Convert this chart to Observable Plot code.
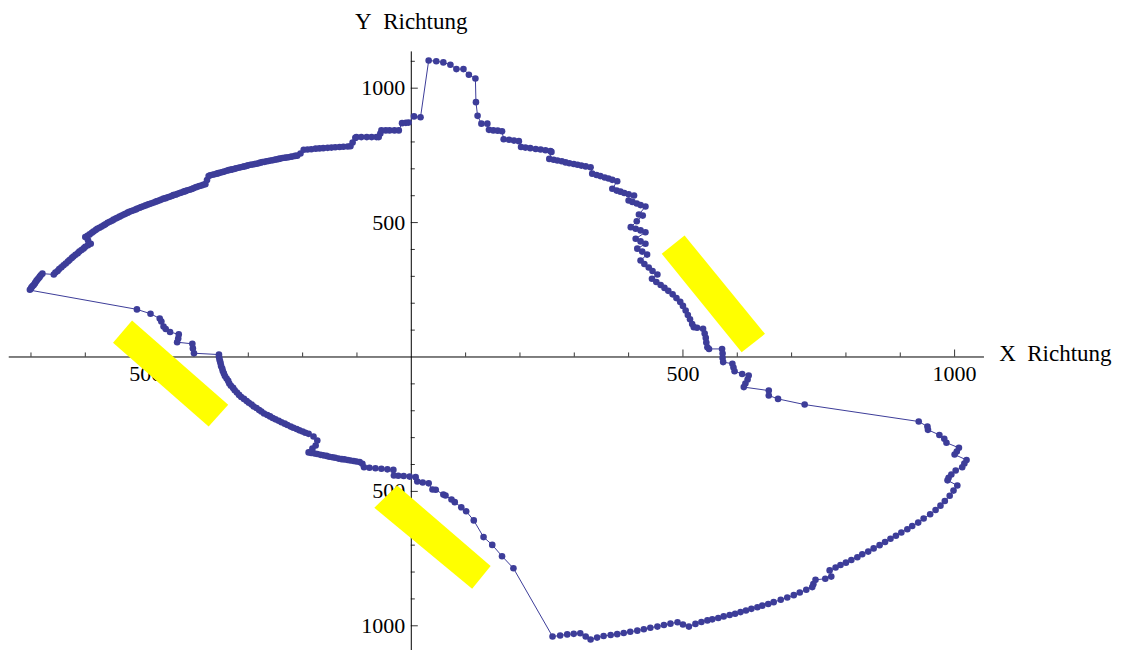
<!DOCTYPE html>
<html><head><meta charset="utf-8">
<script src="https://cdn.jsdelivr.net/npm/d3@7"></script>
<script src="https://cdn.jsdelivr.net/npm/@observablehq/plot@0.6"></script>
<style>body{margin:0;background:#fff} #chart svg{display:block}</style>
</head><body><div id="chart"></div>
<script>
// trajectory, in data units, in drawing order (closed loop)
const upperLeft = [[-702,250],[-700,255],[-699,259],[-697,264],[-695,268],[-693,273],[-692,277],[-690,283],[-688,288],[-686,293],[-684,298],[-682,304],[-679,310],
[-658,307],[-655,314],[-651,320],[-648,327],[-644,334],[-640,341],[-636,348],[-632,355],[-629,361],[-625,368],[-622,374],[-618,380],[-614,386],[-611,392],[-607,398],[-603,404],[-600,410],[-595,416],[-590,421],
[-595,434],
[-600,446],[-596,451],[-592,456],[-588,462],[-585,467],[-581,472],[-578,477],[-574,481],[-570,485],[-566,490],[-563,494],[-559,499],[-555,503],[-551,507],[-548,511],[-544,515],[-541,518],[-537,522],[-533,526],[-529,530],[-526,533],[-522,537],[-519,540],[-515,543],[-511,546],[-507,549],[-504,552],[-500,555],[-497,558],[-493,561],[-489,564],[-485,567],[-482,569],[-478,572],[-474,575],[-470,578],[-467,580],[-463,583],[-460,586],[-456,589],[-452,591],[-448,594],[-445,596],[-441,599],[-438,602],[-434,604],[-430,607],[-426,610],[-423,612],[-419,615],[-416,617],[-412,620],[-408,622],[-404,625],[-401,628],[-397,631],[-394,633],[-390,636],[-386,638],[-383,641],[-379,643],
[-376,658],
[-373,673],[-370,676],[-366,678],[-362,680],[-358,682],[-355,684],[-351,686],[-347,688],[-344,690],[-340,693],[-336,695],[-332,697],[-329,698],[-325,700],[-322,702],[-318,704],[-314,706],[-310,708],[-307,709],[-303,711],[-300,713],[-296,715],[-292,716],[-288,718],[-285,719],[-281,721],[-278,723],[-274,725],[-270,726],[-266,728],[-263,729],[-259,731],[-255,732],[-252,734],[-248,735],[-244,737],[-241,738],[-237,740],[-233,741],[-230,742],[-226,743],[-222,745],[-219,746],[-214,748],[-210,749]];
const upperSteps = [[-204,757],[-198,771],[-191,772],[-184,773],[-176,775],[-169,776],[-162,777],[-154,778],[-147,779],[-140,780],[-132,781],[-125,782],[-117,783],[-112,784],
[-108,798],[-103,815],[-101,818],[-92,818],[-82,818],[-73,818],[-64,818],[-60,818],
[-57,831],[-55,843],[-47,843],[-40,843],[-31,843],[-23,843],
[-17,870],[-10,871],[-5,872],[5,895],[17,892]];
const topCap = [[32,1103],[46,1100],[59,1096],[72,1087],[83,1071],[96,1071],[106,1050],[118,1036],[119,948],[122,897],[129,868],[140,868],[143,845],[151,843],[159,842],[167,840],[170,810],[180,808],[189,805],[198,803],[202,781],[210,779],[219,777],[229,774],[238,772],[247,769],[256,766],[258,763]];
const rightDescent = [[254,737],[262,734],[269,731],[277,728],[284,724],[291,721],[299,718],[306,715],[313,712],[321,709],[330,706],
[333,682],[341,677],[348,673],[356,668],[363,664],[370,659],[379,654],
[370,626],[378,619],[385,615],[392,610],[400,605],[410,601],
[400,582],[407,577],[415,571],[422,565],[431,560],
[419,530],[426,526],[415,505],
[404,483],[413,477],[422,471],[431,464],
[413,440],[422,430],[431,421],
[416,403],[425,392],[434,381],
[422,359],[429,346],[437,333],[444,320],[453,307],
[443,291],[451,279],[459,268],[466,257],[473,246],[481,233],[488,219],[495,205],[500,190],[505,173],[509,156],[513,140],[517,123],[520,111],[526,109],
[537,105],[540,87],[542,71],[543,54],[545,36],[548,30],
[572,30],[573,13],[573,-4],[574,-19],[591,-25],[593,-39],[595,-53],[609,-63],[621,-69],[619,-84],[615,-99],[612,-112],
[658,-125],[658,-143],[675,-156],[724,-177]];
const rightBulge = [[934,-240],[950,-259],[951,-271],[972,-290],[981,-304],[985,-319],[1008,-338],[1004,-352],[1000,-363],[1022,-383],[1018,-396],[1014,-410],[1002,-422],[994,-437],[989,-449],[987,-459],[1005,-478]];
const bottomArc = [[998,-497],[991,-516],[982,-536],[974,-553],[965,-569],[955,-585],[943,-601],[933,-616],[922,-629],[913,-641],[902,-653],[892,-665],[882,-676],[872,-688],[862,-700],[851,-712],[841,-724],[830,-734],[821,-745],[810,-755],[800,-765],[790,-774],[781,-783],[770,-794],[773,-817],[762,-825],[744,-829],[740,-845],[738,-856],[727,-866],[715,-876],[704,-886],[692,-895],[680,-903],[667,-912],[657,-919],[646,-925],[637,-931],[626,-937],[616,-943],[606,-949],[596,-955],[586,-960],[575,-965],[565,-971],[554,-976],[545,-980],[534,-986],[523,-993],[511,-1003],[500,-995],[490,-987],[477,-992],[465,-997],[453,-1003],[440,-1007],[428,-1013],[416,-1018],[403,-1022],[391,-1027],[379,-1031],[367,-1034],[354,-1038],[342,-1044],[330,-1051],[321,-1040],[311,-1028],[299,-1030],[287,-1032],[274,-1036],[260,-1040]];
const lowerMiddle = [[188,-786],[167,-741],[149,-699],[133,-670],[115,-608],[101,-574],[92,-559],[80,-540],[74,-530],[63,-515],[59,-512],[45,-494],[39,-493],[32,-470],[21,-467],[11,-463],[8,-447],[-3,-445],[-14,-443],[-24,-442],[-32,-441],[-33,-420],[-44,-418],[-55,-416],[-66,-414],[-77,-412],[-87,-410],
[-90,-397],[-95,-391],[-101,-389],[-106,-387],[-112,-385],[-117,-383],[-123,-381],[-128,-380],[-134,-378],[-140,-375],[-145,-373],[-151,-371],[-156,-368],[-162,-366],[-167,-364],[-173,-361],[-178,-359],[-184,-357],[-189,-355],
[-182,-341],[-176,-329],[-173,-311],[-180,-296],[-189,-286]];
const lowerArc = [[-195,-282],[-200,-277],[-206,-273],[-211,-268],[-217,-263],[-222,-259],[-228,-253],[-233,-248],[-239,-243],[-244,-237],[-250,-232],[-255,-227],[-260,-221],[-265,-216],[-271,-210],[-276,-203],[-280,-197],[-285,-190],[-290,-184],[-294,-177],[-299,-170],[-303,-164],[-308,-156],[-313,-149],[-317,-141],[-321,-132],[-325,-124],[-328,-115],[-332,-107],[-335,-99],[-337,-89],[-340,-80],[-343,-71],[-345,-61],[-347,-52],[-348,-43],[-350,-34],[-351,-24],[-352,-16],[-353,-8],[-354,1],[-354,9]];
const leftSteps = [[-400,14],[-402,32],[-403,49],[-431,55],[-429,69],[-428,84],[-444,93],[-452,104],[-456,113],[-460,132],[-463,143],[-480,161],[-505,177]];

// yellow bars (corners, data units)
const barLeft = [[-514,136],[-337,-178],[-373,-259],[-549,53]];
const barRight = [[503,452],[651,86],[608,18],[461,384]];
const barBottom = [[-26,-478],[146,-778],[112,-862],[-68,-561]];

// axis ticks
const xMajor = [-500, 500, 1000];
const xMinor = [-700,-600,-400,-300,-200,-100,100,200,300,400,600,700,800,900];
const yMajor = [-1000, -500, 500, 1000];
const yMinor = [-900,-800,-700,-600,-400,-300,-200,-100,100,200,300,400,600,700,800,900,1100];
const xTitle = "X\u00a0\u00a0Richtung";
const yTitle = "Y\u00a0\u00a0Richtung";

const path = [...upperLeft, ...upperSteps, ...topCap, ...rightDescent, ...rightBulge, ...bottomArc, ...lowerMiddle, ...lowerArc, ...leftSteps]
  .map(([x, y]) => ({x, y}));
const bars = [["a", barLeft], ["b", barRight], ["c", barBottom]]
  .flatMap(([id, pts]) => pts.map(([x, y]) => ({id, x, y})));

const ink = "#3d3d99";
const font = "Liberation Serif, Times New Roman, serif";

const chart = Plot.plot({
  width: 1121, height: 650, margin: 0,
  x: {domain: [-756.1, 1307.2], axis: null},
  y: {domain: [-1091.9, 1326.2], axis: null},
  marks: [
    Plot.ruleY([0], {x1: -740, x2: 1055, stroke: "#000", strokeWidth: 1}),
    Plot.ruleX([0], {y1: -1092, y2: 1135, stroke: "#000", strokeWidth: 1}),
    Plot.ruleX(xMinor, {x: d => d, y1: 0, y2: 15, stroke: "#000", strokeWidth: 0.8}),
    Plot.ruleX(xMajor, {x: d => d, y1: 0, y2: 26, stroke: "#000", strokeWidth: 0.8}),
    Plot.ruleY(yMinor, {y: d => d, x1: 0, x2: 7.4, stroke: "#000", strokeWidth: 0.8}),
    Plot.ruleY(yMajor, {y: d => d, x1: 0, x2: 12.9, stroke: "#000", strokeWidth: 0.8}),
    Plot.text(xMajor.filter(d => d > 0), {x: d => d, y: 0, text: d => String(Math.abs(d)), dy: 17, fontSize: 22, fontFamily: font, fill: "#000"}),
    Plot.text(xMajor.filter(d => d < 0), {x: d => d, y: 0, text: d => String(Math.abs(d)), dy: 17, dx: 6, fontSize: 22, fontFamily: font, fill: "#000"}),
    Plot.text(yMajor, {x: 0, y: d => d, text: d => String(Math.abs(d)), dx: -6, textAnchor: "end", fontSize: 22, fontFamily: font, fill: "#000"}),
    Plot.text([xTitle], {x: 1082, y: 0, text: d => d, textAnchor: "start", dy: -3.5, fontSize: 23, fontFamily: font, fill: "#000"}),
    Plot.text([yTitle], {x: 0, y: 1249, text: d => d, textAnchor: "middle", fontSize: 23, fontFamily: font, fill: "#000"}),
    Plot.line(path, {x: "x", y: "y", stroke: ink, strokeWidth: 1, curve: "linear-closed"}),
    Plot.dot(path, {x: "x", y: "y", r: 3.3, fill: ink, stroke: null}),
    Plot.line(bars, {x: "x", y: "y", z: "id", fill: "#ffff00", stroke: null, curve: "linear-closed"})
  ]
});
document.getElementById("chart").appendChild(chart);
</script>
</body></html>
